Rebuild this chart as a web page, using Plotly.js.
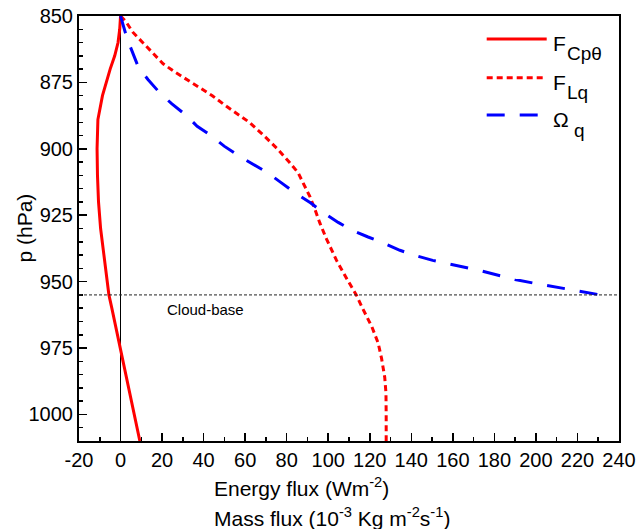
<!DOCTYPE html>
<html>
<head>
<meta charset="utf-8">
<script src="https://cdn.plot.ly/plotly-3.0.1.min.js"></script>
<style>
  html, body { margin: 0; padding: 0; background: #ffffff; }
  #chart { width: 641px; height: 529px; }
</style>
</head>
<body>
<div id="chart"></div>
<script>
// Sensible heat flux F_Cpθ (W m^-2) by pressure level (hPa)
const pSens = [850, 855, 860, 865, 870, 880, 889, 895, 900, 910, 920, 930, 940, 945, 950, 955, 960, 970, 976, 980, 990, 1000, 1010];
const fluxSens = [0, -0.4, -1.2, -2.8, -5.0, -8.7, -10.9, -11.2, -11.3, -11.1, -10.6, -9.6, -8.1, -7.2, -6.3, -5.6, -4.2, -1.5, 0, 1.2, 3.9, 6.6, 9.3];

// Latent heat flux F_Lq (W m^-2)
const pLat = [850, 852, 856, 860, 864, 868, 871, 874, 877, 880, 884, 887, 890, 895, 900, 905, 909, 913, 918, 923, 928, 934, 942, 949, 955, 960, 967, 973, 979, 986, 992, 1000, 1010];
const fluxLat = [0, 2.5, 5.8, 10.7, 15.7, 20.5, 26, 32, 38, 44.2, 51, 56.3, 62, 69, 75.5, 81.2, 85.5, 88, 91.2, 93.7, 96, 99.2, 104, 109, 113.5, 116.5, 121, 124, 125.7, 127.2, 127.8, 127.9, 127.9];

// Moisture mass flux Ω_q (10^-3 kg m^-2 s^-1), above cloud base only
const pMoist = [850, 853, 856.5, 860, 863, 866, 868.5, 870, 874, 878.5, 883, 887, 891.5, 895, 899, 902.5, 906, 909, 913, 916.7, 920.4, 924, 927.7, 930.7, 933.2, 935.5, 938.2, 940.2, 942, 943.3, 944.6, 946, 947.7, 949.2, 950.5, 951.5, 952.7, 953.6, 955];
const fluxMoist = [0, 1.0, 2.4, 3.9, 5.3, 6.8, 8.2, 9.3, 13.3, 18.4, 24.6, 31, 36.9, 43.5, 49.9, 56.6, 63.9, 70.8, 77.8, 84.3, 91.6, 97.6, 104.8, 111.5, 119.2, 126.8, 134.5, 142, 150.3, 158, 166, 174, 182.3, 189.9, 198.4, 205.9, 214.4, 222.5, 231];

// Cloud-base level (hPa)
const cloudBase = 955;

// Axis ticks (labels written with a plain hyphen for negatives)
const xTicks = [-20, 0, 20, 40, 60, 80, 100, 120, 140, 160, 180, 200, 220, 240];
const xTickText = ['-20', '0', '20', '40', '60', '80', '100', '120', '140', '160', '180', '200', '220', '240'];
const yTicks = [850, 875, 900, 925, 950, 975, 1000];

// Series names: base symbol and subscript
const seriesBase = ['F', 'F', 'Ω'];
const seriesSub = ['Cpθ', 'Lq', 'q'];

const FONT = 'Liberation Sans, Arial, Helvetica, sans-serif';
const W = 641, H = 529;
const M = { l: 79, r: 22, t: 16, b: 88 };
const PW = W - M.l - M.r, PH = H - M.t - M.b;
const px = (x) => (x - M.l) / PW;          // page x -> paper x
const py = (y) => (H - M.b - y) / PH;      // page y -> paper y

const styles = [
  { color: '#ff0000', width: 3, dash: 'solid' },
  { color: '#ff0000', width: 3, dash: '6px,4px' },
  { color: '#0000ff', width: 3, dash: '18px,15px' }
];

const traces = [
  { x: fluxSens, y: pSens, type: 'scatter', mode: 'lines', line: styles[0], showlegend: false, name: 'F_Cpθ' },
  { x: fluxLat, y: pLat, type: 'scatter', mode: 'lines', line: styles[1], showlegend: false, name: 'F_Lq' },
  { x: fluxMoist, y: pMoist, type: 'scatter', mode: 'lines', line: styles[2], showlegend: false, name: 'Ω_q' }
];

const axisCommon = {
  showgrid: false,
  showline: true, linecolor: '#000', linewidth: 2, mirror: true,
  ticks: 'inside', ticklen: 8, tickwidth: 1.5, tickcolor: '#000',
  tickfont: { family: FONT, size: 20, color: '#000' }
};

// Legend rows (page-pixel layout)
const legendLineY = [39, 77.7, 115];
const shapes = [
  { type: 'line', xref: 'paper', yref: 'y', x0: 0, x1: 1, y0: cloudBase, y1: cloudBase,
    line: { color: '#222', width: 1, dash: '3px,2px' } }
];
const annotations = [];
for (let i = 0; i < 3; i++) {
  shapes.push({ type: 'line', xref: 'paper', yref: 'paper',
    x0: px(486.7), x1: px(546.7), y0: py(legendLineY[i]), y1: py(legendLineY[i]),
    line: styles[i] });
  annotations.push({ xref: 'paper', yref: 'paper', x: px(551), y: py(legendLineY[i] + 4.5),
    xanchor: 'left', yanchor: 'middle', showarrow: false, text: seriesBase[i],
    font: { family: FONT, size: 21, color: '#000' } });
  annotations.push({ xref: 'paper', yref: 'paper', x: px(i === 2 ? 572 : 564.5), y: py(legendLineY[i] + 15),
    xanchor: 'left', yanchor: 'middle', showarrow: false, text: seriesSub[i],
    font: { family: FONT, size: 19, color: '#000' } });
}

annotations.push(
  { xref: 'paper', yref: 'y', x: px(165), y: cloudBase, yshift: -15, xanchor: 'left', yanchor: 'middle',
    showarrow: false, text: 'Cloud-base', font: { family: FONT, size: 15, color: '#000' } },
  { xref: 'paper', yref: 'paper', x: px(212), y: py(487), xanchor: 'left', yanchor: 'middle',
    showarrow: false, text: 'Energy flux (Wm<sup>-2</sup>)', font: { family: FONT, size: 21, color: '#000' } },
  { xref: 'paper', yref: 'paper', x: px(212), y: py(517), xanchor: 'left', yanchor: 'middle',
    showarrow: false, text: 'Mass flux (10<sup>-3</sup> Kg m<sup>-2</sup>s<sup>-1</sup>)', font: { family: FONT, size: 21, color: '#000' } },
  { xref: 'paper', yref: 'paper', x: px(24), y: 0.5, xanchor: 'center', yanchor: 'middle', textangle: -90,
    showarrow: false, text: 'p (hPa)', font: { family: FONT, size: 21, color: '#000' } }
);

const layout = {
  width: W, height: H,
  margin: M,
  paper_bgcolor: '#fff', plot_bgcolor: '#fff',
  showlegend: false,
  xaxis: Object.assign({}, axisCommon, {
    range: [-20, 240], tickmode: 'array', tickvals: xTicks, ticktext: xTickText,
    zeroline: true, zerolinecolor: '#000', zerolinewidth: 1,
    minor: { dtick: 10, tick0: 0, ticks: 'inside', ticklen: 4, tickwidth: 1.5, tickcolor: '#000', showgrid: false }
  }),
  yaxis: Object.assign({}, axisCommon, {
    range: [1010, 850], tickmode: 'array', tickvals: yTicks, zeroline: false,
    minor: { dtick: 5, tick0: 850, ticks: 'inside', ticklen: 4, tickwidth: 1.5, tickcolor: '#000', showgrid: false }
  }),
  shapes: shapes,
  annotations: annotations
};

Plotly.newPlot('chart', traces, layout, { displayModeBar: false, staticPlot: true });
</script>
</body>
</html>
